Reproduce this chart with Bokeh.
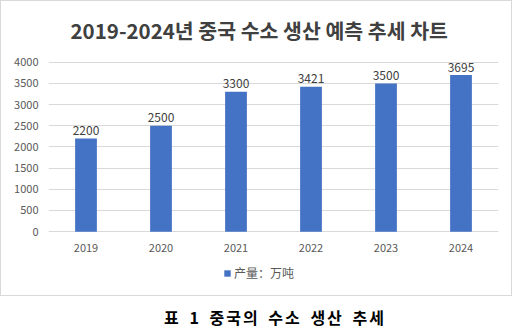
from bokeh.plotting import figure
from bokeh.models import (ColumnDataSource, Range1d, FixedTicker, LabelSet,
                          Legend, LegendItem, Div)
from bokeh.core.properties import value
from bokeh.layouts import column
from bokeh.embed import file_html
from bokeh.resources import INLINE

# ---- data ----
years = ["2019", "2020", "2021", "2022", "2023", "2024"]
production = [2200, 2500, 3300, 3421, 3500, 3695]
y_ticks = [0, 500, 1000, 1500, 2000, 2500, 3000, 3500, 4000]
title_text = "2019-2024년 중국 수소 생산 예측 추세 차트"
series_name = "产量：万吨"
caption_text = "표 1 중국의 수소 생산 추세"

FONT = "Noto Sans CJK KR"
FONT_SC = "Noto Sans CJK SC"
BAR = "#4472C4"
GRID = "#D9D9D9"
AXIS_TXT = "#595959"

# layout geometry (pixels)
Y_MAX = 4000
PX_PLOT = 173          # pixels from 0 to Y_MAX
PX_ABOVE = 15          # room above Y_MAX inside the frame (value labels)
PX_BELOW = 58          # room below 0 inside the frame (category labels + legend)
y_start = -PX_BELOW * Y_MAX / PX_PLOT
y_end = Y_MAX + PX_ABOVE * Y_MAX / PX_PLOT

src = ColumnDataSource(dict(year=years, value=production, label=[str(v) for v in production]))

p = figure(width=505, height=286, x_range=years, y_range=Range1d(y_start, y_end),
           output_backend="svg", toolbar_location=None, x_axis_location=None,
           min_border_left=42, min_border_right=13, min_border_top=33, min_border_bottom=7)
p.outline_line_color = None
p.margin = (8, 0, 0, 5)

p.title.text = title_text
p.title.align = "left"
p.title.offset = 22
p.title.standoff = 6
p.title.text_font = FONT
p.title.text_font_size = "20.5px"
p.title.text_font_style = "bold"
p.title.text_color = "#404040"

r = p.vbar(x="year", top="value", width=0.29, source=src, fill_color=BAR, line_color=None)

p.add_layout(LabelSet(x="year", y="value", text="label", source=src, text_align="center",
                      text_baseline="middle", y_offset=8, text_font=value(FONT),
                      text_font_size="12px", text_color="#404040"))

# category labels under the baseline
p.add_layout(LabelSet(x="year", y=0, text="year", source=src, text_align="center",
                      text_baseline="middle", y_offset=-16, text_font=value(FONT),
                      text_font_size="11px", text_color=AXIS_TXT))

p.yaxis.ticker = FixedTicker(ticks=y_ticks)
p.yaxis.axis_line_color = None
p.yaxis.major_tick_line_color = None
p.yaxis.minor_tick_line_color = None
p.yaxis.major_label_text_font = FONT
p.yaxis.major_label_text_font_size = "11px"
p.yaxis.major_label_text_color = AXIS_TXT
p.yaxis.major_label_standoff = 4

p.xgrid.grid_line_color = None
p.ygrid.grid_line_color = GRID
p.ygrid.ticker = FixedTicker(ticks=y_ticks)

legend = Legend(items=[LegendItem(label=series_name, renderers=[r])],
                orientation="horizontal", location=(175, 7),
                glyph_width=8, glyph_height=8, label_text_font=FONT_SC,
                label_text_font_size="12px", label_text_color=AXIS_TXT,
                border_line_color=None, background_fill_alpha=0,
                padding=0, margin=0, label_standoff=3, label_height=14)
p.add_layout(legend, "center")

box = column(p, styles={"border": "1px solid #D9D9D9"})

cap = Div(text=caption_text, width=516, height=30,
          styles={"font-family": FONT, "font-weight": "bold", "font-size": "16px",
                  "letter-spacing": "2px", "word-spacing": "3px",
                  "color": "#000000", "text-align": "center", "padding-left": "34px",
                  "line-height": "30px", "width": "516px"})
cap.margin = (6, 0, 0, 0)

lay = column(box, cap)
open("out.html", "w").write(file_html(lay, INLINE))
